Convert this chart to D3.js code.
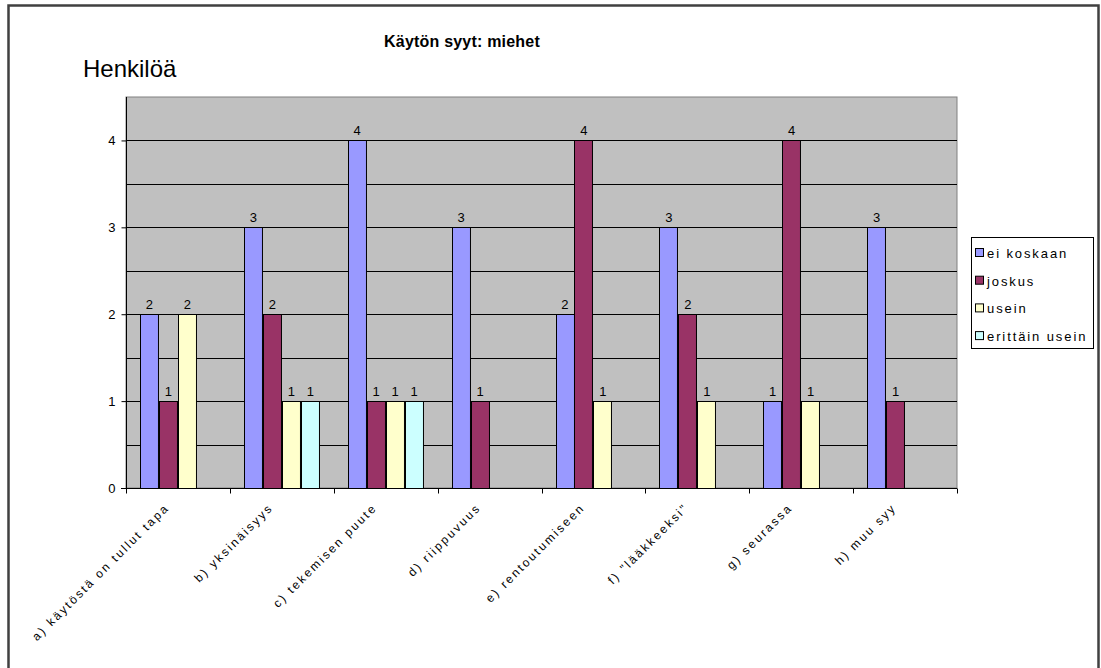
<!DOCTYPE html>
<html>
<head>
<meta charset="utf-8">
<script src="https://cdn.jsdelivr.net/npm/d3@7"></script>
<style>
  body { margin: 0; background: #fff; }
  svg { display: block; font-family: "Liberation Sans", Arial, sans-serif; }
</style>
</head>
<body>
<svg id="chart" width="1101" height="668"></svg>
<script>
// Reasons for use, men — number of persons per answer
const categories = [
  "a) käytöstä on tullut tapa",
  "b) yksinäisyys",
  "c) tekemisen puute",
  "d) riippuvuus",
  "e) rentoutumiseen",
  "f) \"lääkkeeksi\"",
  "g) seurassa",
  "h) muu syy"
];
const seriesNames = ["ei koskaan", "joskus", "usein", "erittäin usein"];
const eiKoskaan    = [2, 3, 4, 3, 2, 3, 1, 3];
const joskus       = [1, 2, 1, 1, 4, 2, 4, 1];
const usein        = [2, 1, 1, 0, 1, 1, 1, 0];
const erittainUsein = [0, 1, 1, 0, 0, 0, 0, 0];
const yTicks = [0, 1, 2, 3, 4];
const seriesColors = ["#9999FF", "#993366", "#FFFFCC", "#CCFFFF"];

const seriesValues = [eiKoskaan, joskus, usein, erittainUsein];

const svg = d3.select("#chart");

// outer chart frame
svg.append("rect")
  .attr("x", 8.5).attr("y", 5.5).attr("width", 1090).attr("height", 670)
  .attr("fill", "#fff").attr("stroke", "#404040").attr("stroke-width", 2.5);

const plot = { left: 126, right: 957, top: 97, bottom: 488 };

const x = d3.scaleBand().domain(categories).range([plot.left, plot.right]).paddingInner(0).paddingOuter(0);
const inner = d3.scaleBand().domain(seriesNames).range([14, x.bandwidth() - 14]).padding(0);
const y = d3.scaleLinear().domain([0, 4.5]).range([plot.bottom, plot.top]);

// plot background
svg.append("rect")
  .attr("x", plot.left).attr("y", plot.top)
  .attr("width", plot.right - plot.left).attr("height", plot.bottom - plot.top)
  .attr("fill", "#C0C0C0").attr("stroke", "#808080").attr("stroke-width", 1);

// horizontal gridlines every half unit
svg.append("g")
  .selectAll("line")
  .data(d3.range(0.5, 4.5, 0.5))
  .join("line")
  .attr("x1", plot.left).attr("x2", plot.right)
  .attr("y1", d => Math.round(y(d)) + 0.5).attr("y2", d => Math.round(y(d)) + 0.5)
  .attr("stroke", "#000").attr("stroke-width", 1);

// bars
const groups = svg.append("g")
  .selectAll("g")
  .data(seriesNames.map((name, i) => ({ name, color: seriesColors[i], values: seriesValues[i] })))
  .join("g");

groups.selectAll("rect")
  .data(s => s.values.map((v, j) => ({ v, cat: categories[j], s })).filter(d => d.v > 0))
  .join("rect")
  .attr("x", d => Math.round(x(d.cat) + inner(d.s.name)) + 0.5)
  .attr("y", d => Math.round(y(d.v)) + 0.5)
  .attr("width", inner.bandwidth() - 1)
  .attr("height", d => Math.round(y(0)) - Math.round(y(d.v)))
  .attr("fill", d => d.s.color)
  .attr("stroke", "#000").attr("stroke-width", 1);

// value labels
groups.selectAll("text")
  .data(s => s.values.map((v, j) => ({ v, cat: categories[j], s })).filter(d => d.v > 0))
  .join("text")
  .attr("x", d => x(d.cat) + inner(d.s.name) + inner.bandwidth() / 2)
  .attr("y", d => y(d.v) - 5)
  .attr("text-anchor", "middle")
  .attr("font-size", 13)
  .attr("fill", "#000")
  .text(d => d.v);

// y axis
const yAxis = svg.append("g")
  .attr("transform", `translate(${plot.left + 0.5},0)`)
  .call(d3.axisLeft(y).tickValues(yTicks).tickFormat(d3.format("d")).tickSize(5).tickPadding(6));
yAxis.select(".domain").attr("stroke", "#000").attr("d", `M0,${plot.top}V${plot.bottom}`);
yAxis.selectAll("text").attr("font-size", 13).attr("font-family", "Liberation Sans, Arial, sans-serif");

// x axis
const xAxis = svg.append("g")
  .attr("transform", `translate(0,${plot.bottom + 0.5})`);
xAxis.append("line")
  .attr("x1", plot.left - 5).attr("x2", plot.right)
  .attr("stroke", "#000");
xAxis.selectAll("line.tick")
  .data(d3.range(categories.length + 1))
  .join("line")
  .attr("class", "tick")
  .attr("x1", i => Math.round(plot.left + i * x.step()) + 0.5)
  .attr("x2", i => Math.round(plot.left + i * x.step()) + 0.5)
  .attr("y1", 0).attr("y2", 5)
  .attr("stroke", "#000");
xAxis.selectAll("text")
  .data(categories)
  .join("text")
  .attr("text-anchor", "end")
  .attr("font-size", 12)
  .attr("letter-spacing", 2.2)
  .attr("transform", d => `translate(${x(d) + x.bandwidth() / 2 - 8},${20}) rotate(-45)`)
  .text(d => d);

// titles
svg.append("text")
  .attr("x", 462).attr("y", 47)
  .attr("text-anchor", "middle")
  .attr("font-size", 16).attr("font-weight", "bold")
  .attr("letter-spacing", 0.2)
  .text("Käytön syyt: miehet");

svg.append("text")
  .attr("x", 83).attr("y", 77)
  .attr("font-size", 24)
  .text("Henkilöä");

// legend
const legend = svg.append("g");
legend.append("rect")
  .attr("x", 971.5).attr("y", 237.5).attr("width", 122).attr("height", 111)
  .attr("fill", "#fff").attr("stroke", "#000");
const items = legend.selectAll("g")
  .data(seriesNames)
  .join("g")
  .attr("transform", (d, i) => `translate(0,${253 + i * 27.7})`);
items.append("rect")
  .attr("x", 975.5).attr("y", -4.5).attr("width", 8).attr("height", 8)
  .attr("fill", (d, i) => seriesColors[i]).attr("stroke", "#000");
items.append("text")
  .attr("x", 987).attr("y", 5)
  .attr("font-size", 13)
  .attr("letter-spacing", 1.9)
  .text(d => d);
</script>
</body>
</html>
